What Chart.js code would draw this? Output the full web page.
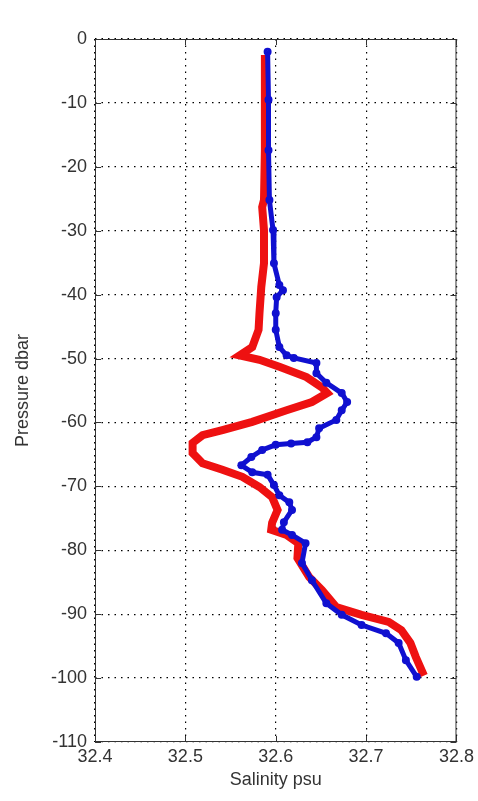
<!DOCTYPE html>
<html>
<head>
<meta charset="utf-8">
<script src="https://cdn.jsdelivr.net/npm/chart.js@4"></script>
<style>
  html, body { margin: 0; padding: 0; background: #fff; }
</style>
</head>
<body>
<canvas id="myChart" width="478" height="801"></canvas>
<script>
// salinity (psu) vs pressure (dbar), two casts
const redSalinity = [32.588, 32.588, 32.588, 32.587, 32.585, 32.587, 32.587, 32.584, 32.582, 32.581,
  32.574, 32.560, 32.582, 32.604, 32.634, 32.651, 32.657, 32.640, 32.612, 32.574,
  32.541, 32.519, 32.508, 32.508, 32.519, 32.541, 32.563, 32.582, 32.596, 32.602,
  32.596, 32.595, 32.612, 32.625, 32.624, 32.637, 32.651, 32.667, 32.695, 32.725,
  32.739, 32.749, 32.755, 32.764];
const redPressure = [-2.5, -9.5, -17.4, -25.2, -26.3, -29.9, -35.1, -38.8, -42.9, -45.5,
  -48.2, -49.5, -50.2, -51.3, -52.9, -54.5, -55.4, -56.8, -58.1, -59.9,
  -61.2, -62.0, -63.2, -64.8, -66.4, -67.4, -68.5, -70.1, -71.7, -73.7,
  -75.7, -76.8, -77.6, -78.9, -81.2, -84.2, -86.2, -88.9, -90.1, -91.2,
  -92.5, -94.5, -96.7, -99.6];

const blueSalinity = [32.591, 32.592, 32.592, 32.593, 32.597, 32.598, 32.604, 32.608, 32.601, 32.600,
  32.600, 32.604, 32.612, 32.620, 32.645, 32.645, 32.656, 32.673, 32.679, 32.673,
  32.667, 32.648, 32.645, 32.635, 32.617, 32.600, 32.585, 32.573, 32.562, 32.574,
  32.591, 32.598, 32.604, 32.615, 32.618, 32.609, 32.607, 32.618, 32.633, 32.629,
  32.640, 32.656, 32.673, 32.695, 32.722, 32.736, 32.744, 32.756];
const bluePressure = [-2.0, -9.5, -17.4, -25.2, -29.9, -35.1, -38.5, -39.3, -40.4, -42.9,
  -45.5, -48.2, -49.5, -49.9, -50.7, -52.3, -53.8, -55.4, -56.8, -58.1,
  -59.6, -60.9, -62.3, -63.1, -63.3, -63.5, -64.3, -65.4, -66.7, -67.8,
  -68.2, -69.8, -71.4, -72.5, -73.7, -75.6, -76.8, -77.6, -78.9, -82.0,
  -84.7, -88.3, -90.1, -91.7, -93.0, -94.5, -97.2, -99.8];

const xTicks = [32.4, 32.5, 32.6, 32.7, 32.8];
const yTicks = [0, -10, -20, -30, -40, -50, -60, -70, -80, -90, -100, -110];

function toPoints(xs, ys) {
  return xs.map((x, i) => ({ x: x, y: ys[i] }));
}

Chart.defaults.font.family = '"Liberation Sans", Arial, sans-serif';
Chart.defaults.font.size = 18;
Chart.defaults.color = '#333';

// box round the plot with inward tick marks, matlab style
const boxPlugin = {
  id: 'box',
  afterDatasetsDraw(chart) {
    const { ctx, chartArea: a, scales } = chart;
    ctx.save();
    ctx.strokeStyle = '#333';
    ctx.lineWidth = 1;
    ctx.strokeRect(a.left + 0.5, a.top + 0.5, a.right - a.left - 1, a.bottom - a.top - 1);
    ctx.beginPath();
    xTicks.forEach(v => {
      const px = Math.round(scales.x.getPixelForValue(v)) + 0.5;
      ctx.moveTo(px, a.bottom); ctx.lineTo(px, a.bottom - 6);
      ctx.moveTo(px, a.top); ctx.lineTo(px, a.top + 6);
    });
    yTicks.forEach(v => {
      const py = Math.round(scales.y.getPixelForValue(v)) + 0.5;
      ctx.moveTo(a.left, py); ctx.lineTo(a.left + 6, py);
      ctx.moveTo(a.right, py); ctx.lineTo(a.right - 6, py);
    });
    ctx.stroke();
    ctx.restore();
  }
};

const ctx = document.getElementById('myChart').getContext('2d');

const config = {
  type: 'scatter',
  data: {
    datasets: [
      {
        label: 'cast 2',
        data: toPoints(blueSalinity, bluePressure),
        showLine: true,
        borderColor: '#1010d0',
        backgroundColor: '#1010d0',
        borderWidth: 5,
        pointRadius: 1.5,
        order: 1
      },
      {
        label: 'cast 1',
        data: toPoints(redSalinity, redPressure),
        showLine: true,
        borderColor: '#ee1111',
        backgroundColor: '#ee1111',
        borderWidth: 8,
        pointRadius: 0,
        order: 2
      }
    ]
  },
  options: {
    responsive: false,
    animation: false,
    layout: { padding: { top: 39, right: 20, left: 0, bottom: 0 } },
    plugins: {
      legend: { display: false },
      tooltip: { enabled: false }
    },
    scales: {
      x: {
        type: 'linear',
        min: 32.4,
        max: 32.8,
        afterBuildTicks: s => { s.ticks = xTicks.map(v => ({ value: v })); },
        afterFit: s => { s.height = 59; },
        ticks: {
          padding: 4,
          callback: v => v.toFixed(1)
        },
        grid: { color: '#000', lineWidth: 1.2, drawTicks: false },
        border: { display: false, dash: [1.5, 5] },
        title: {
          display: true,
          text: 'Salinity psu',
          padding: { top: 0, bottom: 10 }
        }
      },
      y: {
        type: 'linear',
        min: -110,
        max: 0,
        afterBuildTicks: s => { s.ticks = yTicks.map(v => ({ value: v })); },
        afterFit: s => { s.width = 95; },
        ticks: { padding: 8 },
        grid: { color: '#000', lineWidth: 1.2, drawTicks: false },
        border: { display: false, dash: [1.5, 5] },
        title: {
          display: true,
          text: 'Pressure dbar',
          padding: { top: 12, bottom: 0 }
        }
      }
    }
  },
  plugins: [boxPlugin]
};

const myChart = new Chart(ctx, config);
</script>
</body>
</html>
